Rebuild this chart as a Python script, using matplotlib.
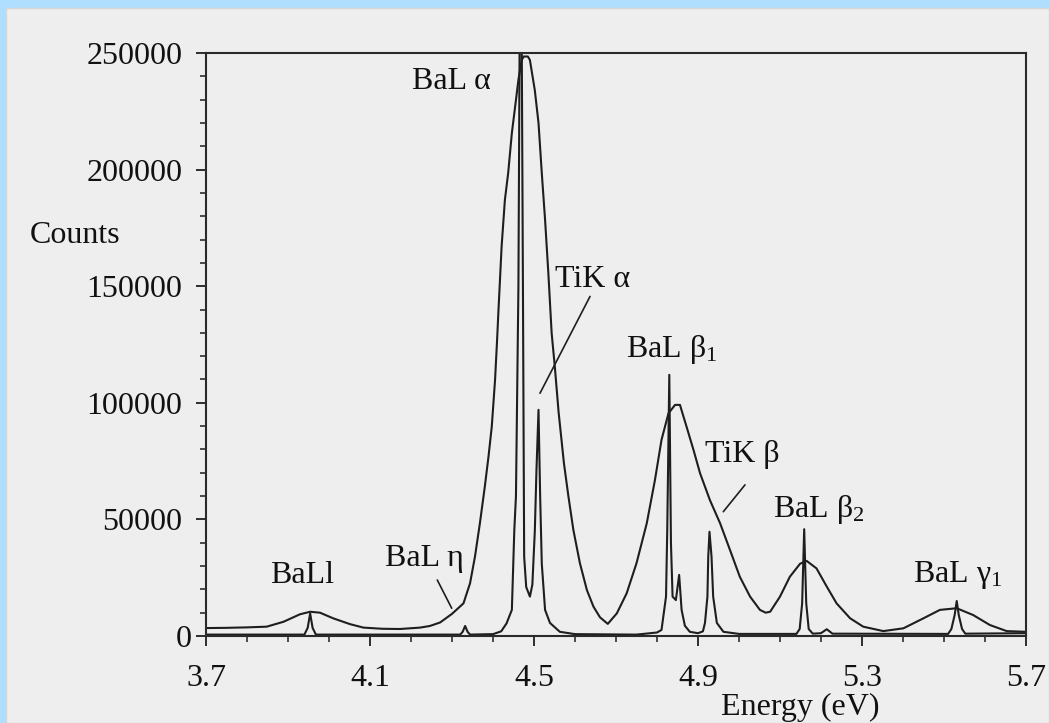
import matplotlib
matplotlib.use("Agg")
import matplotlib.pyplot as plt
import matplotlib.transforms as mtransforms
from matplotlib.patches import Rectangle
from matplotlib.ticker import MultipleLocator

# ---------------- data ----------------
# Broad Si(Li)-type spectrum
broad_energy = [3.70, 3.75, 3.80, 3.848, 3.889, 3.929, 3.954, 3.978, 4.010, 4.051,
                4.084, 4.13, 4.173, 4.222, 4.246, 4.271, 4.300, 4.328, 4.344, 4.356,
                4.368, 4.380, 4.389, 4.397, 4.405, 4.410, 4.413, 4.421, 4.429, 4.437,
                4.446, 4.454, 4.462, 4.470, 4.475, 4.485, 4.490, 4.502, 4.511, 4.519,
                4.527, 4.535, 4.543, 4.551, 4.560, 4.573, 4.584, 4.596, 4.612, 4.629,
                4.645, 4.661, 4.680, 4.702, 4.726, 4.750, 4.775, 4.795, 4.811, 4.828,
                4.844, 4.856, 4.872, 4.889, 4.905, 4.929, 4.954, 4.978, 5.002, 5.027,
                5.051, 5.065, 5.076, 5.100, 5.124, 5.149, 5.165, 5.189, 5.214, 5.238,
                5.271, 5.303, 5.352, 5.401, 5.450, 5.490, 5.531, 5.571, 5.612, 5.653,
                5.700]
broad_counts = [3400, 3500, 3700, 4000, 6100, 9300, 10400, 10000, 7600, 5100,
                3600, 3100, 3000, 3600, 4300, 5800, 9500, 14000, 22600, 34000,
                48300, 64000, 76900, 89800, 109800, 127000, 138400, 167000, 187000, 198500,
                215700, 227000, 238500, 247000, 248500, 248500, 247000, 234000, 220000, 198500,
                178500, 155600, 130000, 115000, 96000, 74100, 59800, 45500, 31200, 19700,
                12600, 8000, 5200, 9700, 18300, 31200, 48300, 66900, 84100, 95500,
                99100, 99100, 89800, 79800, 69800, 58300, 48300, 36900, 25400, 16900,
                11200, 10000, 10400, 16900, 25400, 31000, 32200, 29000, 21200, 14000,
                7600, 4000, 2100, 3300, 7600, 11200, 11900, 9000, 4700, 2100,
                1800]

# High-resolution (microcalorimeter-type) spectrum
sharp_energy = [3.700, 3.940, 3.948, 3.954, 3.960, 3.968, 4.320, 4.326, 4.332, 4.338,
                4.344, 4.400, 4.420, 4.433, 4.446, 4.452, 4.456, 4.462, 4.465, 4.470,
                4.473, 4.476, 4.481, 4.490, 4.496, 4.502, 4.506, 4.511, 4.515, 4.519,
                4.527, 4.539, 4.563, 4.600, 4.750, 4.800, 4.811, 4.822, 4.825, 4.830,
                4.834, 4.838, 4.846, 4.854, 4.860, 4.868, 4.880, 4.900, 4.912, 4.917,
                4.923, 4.925, 4.928, 4.933, 4.937, 4.946, 4.962, 5.000, 5.140, 5.148,
                5.154, 5.159, 5.164, 5.170, 5.180, 5.200, 5.214, 5.228, 5.510, 5.518,
                5.526, 5.531, 5.536, 5.544, 5.552, 5.700]
sharp_counts = [600, 600, 3500, 9700, 3500, 600, 600, 1800, 4300, 1800,
                600, 800, 2000, 5400, 11200, 45500, 60000, 150000, 258000, 258000,
                150000, 34000, 21000, 16900, 22000, 45000, 71000, 97000, 60000, 31000,
                11200, 5600, 1800, 800, 600, 1500, 2600, 16900, 45500, 112000,
                40000, 16900, 15400, 26200, 11200, 4400, 1800, 1200, 2000, 5600,
                16900, 34000, 44700, 34000, 16900, 5600, 1800, 900, 900, 3000,
                14000, 45800, 14000, 3000, 1000, 1200, 2900, 1000, 900, 3000,
                9000, 15000, 9000, 3000, 1000, 1200]

x_ticks = [3.7, 4.1, 4.5, 4.9, 5.3, 5.7]
x_tick_labels = ["3.7", "4.1", "4.5", "4.9", "5.3", "5.7"]
y_ticks = [0, 50000, 100000, 150000, 200000, 250000]
y_tick_labels = ["0", "50000", "100000", "150000", "200000", "250000"]

# peak labels: (text, energy, counts) — left/baseline anchor
peak_labels = [
    ("BaL α", 4.2024, 234700),
    ("TiK α", 4.5512, 149700),
    ("BaL β$\\mathregular{_1}$", 4.7244, 119700),
    ("TiK β", 4.9171, 74600),
    ("BaL β$\\mathregular{_2}$", 5.0829, 51000),
    ("BaL γ$\\mathregular{_1}$", 5.4244, 23200),
    ("BaL η", 4.1366, 30000),
    ("BaLl", 3.8561, 22700),
]
# leader lines: ((E1, c1), (E2, c2))
leaders = [
    ((4.6366, 145600), (4.5146, 104100)),
    ((5.0146, 64800), (4.9617, 53300)),
    ((4.2641, 24000), (4.2993, 11900)),
]

# ---------------- drawing ----------------
W, H, DPI = 1049, 723, 100
plt.rcParams["font.family"] = ["Liberation Serif", "DejaVu Serif"]
plt.rcParams["mathtext.fontset"] = "custom"
plt.rcParams["mathtext.rm"] = "Liberation Serif"

fig = plt.figure(figsize=(W / DPI, H / DPI), dpi=DPI, facecolor="#afdeff")
# scanned paper
paper = Rectangle((6 / W, 0), 1 - 6 / W, 1 - 8 / H, transform=fig.transFigure,
                  facecolor="#eeeeee", edgecolor="#d6d6d6", linewidth=1.0, zorder=-10)
fig.patches.append(paper)

ax = fig.add_axes([206 / W, 87 / H, 820 / W, 583 / H])
ax.set_facecolor("none")
ax.set_zorder(5)

ink = "#1e1e1e"
ax.plot(broad_energy, broad_counts, color=ink, lw=1.5, clip_on=True)
ax.plot(sharp_energy, sharp_counts, color=ink, lw=1.5, clip_on=True)

ax.set_xlim(3.7, 5.7)
ax.set_ylim(0, 250000)

ax.set_xticks(x_ticks)
ax.set_xticklabels(x_tick_labels)
ax.set_yticks(y_ticks)
ax.set_yticklabels(y_tick_labels)
ax.xaxis.set_minor_locator(MultipleLocator(0.1))
ax.yaxis.set_minor_locator(MultipleLocator(10000))
ax.tick_params(axis="both", which="major", direction="out", length=7.5, width=1.3,
               color=ink, labelsize=23, labelcolor="#111111")
ax.tick_params(axis="both", which="minor", direction="out", length=4.5, width=1.1, color=ink)
ax.tick_params(axis="x", which="major", pad=13)
ax.tick_params(axis="y", which="major", pad=9.5)
ax.tick_params(top=False, right=False, which="both")
for s in ax.spines.values():
    s.set_color("#2a2a2a")
    s.set_linewidth(1.5)

# the "0" label sits a little further right in the original
zero_lbl = ax.get_yticklabels()[0]
zero_lbl.set_transform(zero_lbl.get_transform() +
                       mtransforms.ScaledTranslation(9 / DPI, 0, fig.dpi_scale_trans))

for txt, e, c in peak_labels:
    ax.text(e, c, txt, fontsize=23, color="#111111", ha="left", va="baseline")

for (e1, c1), (e2, c2) in leaders:
    ax.annotate("", xy=(e2, c2), xytext=(e1, c1),
                arrowprops=dict(arrowstyle="-", color=ink, lw=1.2, shrinkA=0, shrinkB=0))

fig.text(30 / W, 1 - 243 / H, "Counts", fontsize=23, color="#111111",
         ha="left", va="baseline")
fig.text(800 / W, 1 - 715 / H, "Energy (eV)", fontsize=23, color="#111111",
         ha="center", va="baseline")

fig.savefig("out.png", dpi=DPI, facecolor=fig.get_facecolor())
